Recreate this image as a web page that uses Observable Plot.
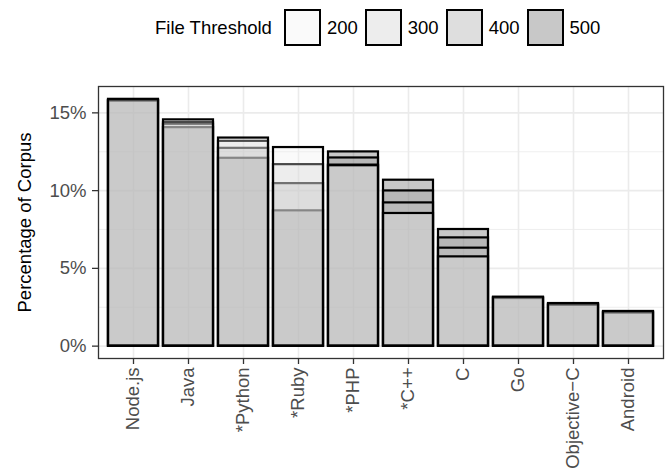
<!DOCTYPE html>
<html><head><meta charset="utf-8">
<script src="https://cdn.jsdelivr.net/npm/d3@7"></script>
<script src="https://cdn.jsdelivr.net/npm/@observablehq/plot@0.6"></script>
<style>
body{margin:0;background:#fff;font-family:"Liberation Sans",Arial,sans-serif;}
#legend{height:55px;display:flex;align-items:center;padding-left:155px;font-size:18.5px;color:#000;box-sizing:border-box;}
#legend .title{margin-right:12px;}
#legend .sw{width:37px;height:37px;box-sizing:border-box;border:2px solid #000;background:#fff;margin-right:6px;position:relative;}
#legend .sw span{position:absolute;left:0;top:0;right:0;bottom:0;}
#legend .lab{margin-right:7px;}
#chart svg{display:block;}
</style></head><body>
<div id="legend"></div><div id="chart"></div>
<script>
const categories = ["Node.js","Java","*Python","*Ruby","*PHP","*C++","C","Go","Objective−C","Android"];
const thresholds = ["200","300","400","500"];
const pct200 = [15.87,14.55,13.38,12.77,11.60,8.53,5.74,3.15,2.74,2.23];
const pct300 = [15.80,14.38,13.17,11.67,11.64,9.21,6.30,3.12,2.69,2.19];
const pct400 = [15.78,14.27,12.72,10.45,12.10,9.98,6.96,3.09,2.66,2.16];
const pct500 = [15.76,14.05,12.08,8.70,12.49,10.67,7.50,3.06,2.62,2.12];
const fills = ["#eeeeee","#c5c5c5","#939393","#484848"];
const yTicks = [0,5,10,15];
const yMinor = [2.5,7.5,12.5];
const yLabel = "Percentage of Corpus";
const legendTitle = "File Threshold";

const series = {"200": pct200, "300": pct300, "400": pct400, "500": pct500};
const rows = [];
for (const t of thresholds.slice().reverse()) {
  categories.forEach((c, i) => rows.push({language: c, threshold: t, pct: series[t][i]}));
}

const legend = document.getElementById("legend");
legend.innerHTML = `<span class="title">${legendTitle}</span>` +
  thresholds.map((t, i) => `<span class="sw"><span style="background:${fills[i]};opacity:0.3"></span></span><span class="lab">${t}</span>`).join("");

const plot = Plot.plot({
  width: 665, height: 417,
  marginTop: 31, marginBottom: 114, marginLeft: 98, marginRight: 2,
  style: {fontFamily: "Liberation Sans, Arial, sans-serif", fontSize: "18.5px", background: "white", color: "#000"},
  x: {domain: categories, paddingInner: 0.1, paddingOuter: 0.15, label: null},
  y: {domain: [-0.795, 16.695], label: null},
  color: {domain: thresholds, range: fills},
  marks: [
    Plot.gridY(yMinor, {stroke: "#ebebeb", strokeOpacity: 1, strokeWidth: 0.8}),
    Plot.gridY(yTicks, {stroke: "#ebebeb", strokeOpacity: 1, strokeWidth: 1.6}),
    Plot.gridX(categories, {stroke: "#ebebeb", strokeOpacity: 1, strokeWidth: 1.6}),
    Plot.barY(rows, {x: "language", y1: 0, y2: "pct", fill: "threshold", fillOpacity: 0.3, stroke: "#000", strokeWidth: 2.2}),
    Plot.frame({stroke: "#333", strokeWidth: 1.3}),
    Plot.axisY(yTicks, {tickSize: 6, tickPadding: 6, tickFormat: d => d + "%", fill: "#4d4d4d", stroke: "#333", strokeWidth: 1.3, label: null}),
    Plot.axisX(categories, {tickSize: 6, tickPadding: 3, tickRotate: -90, fill: "#4d4d4d", stroke: "#333", strokeWidth: 1.3, label: null}),
    Plot.text([yLabel], {frameAnchor: "left", dx: -73, rotate: -90, textAnchor: "middle", fill: "#000"})
  ]
});
document.getElementById("chart").appendChild(plot);
</script>
</body></html>
